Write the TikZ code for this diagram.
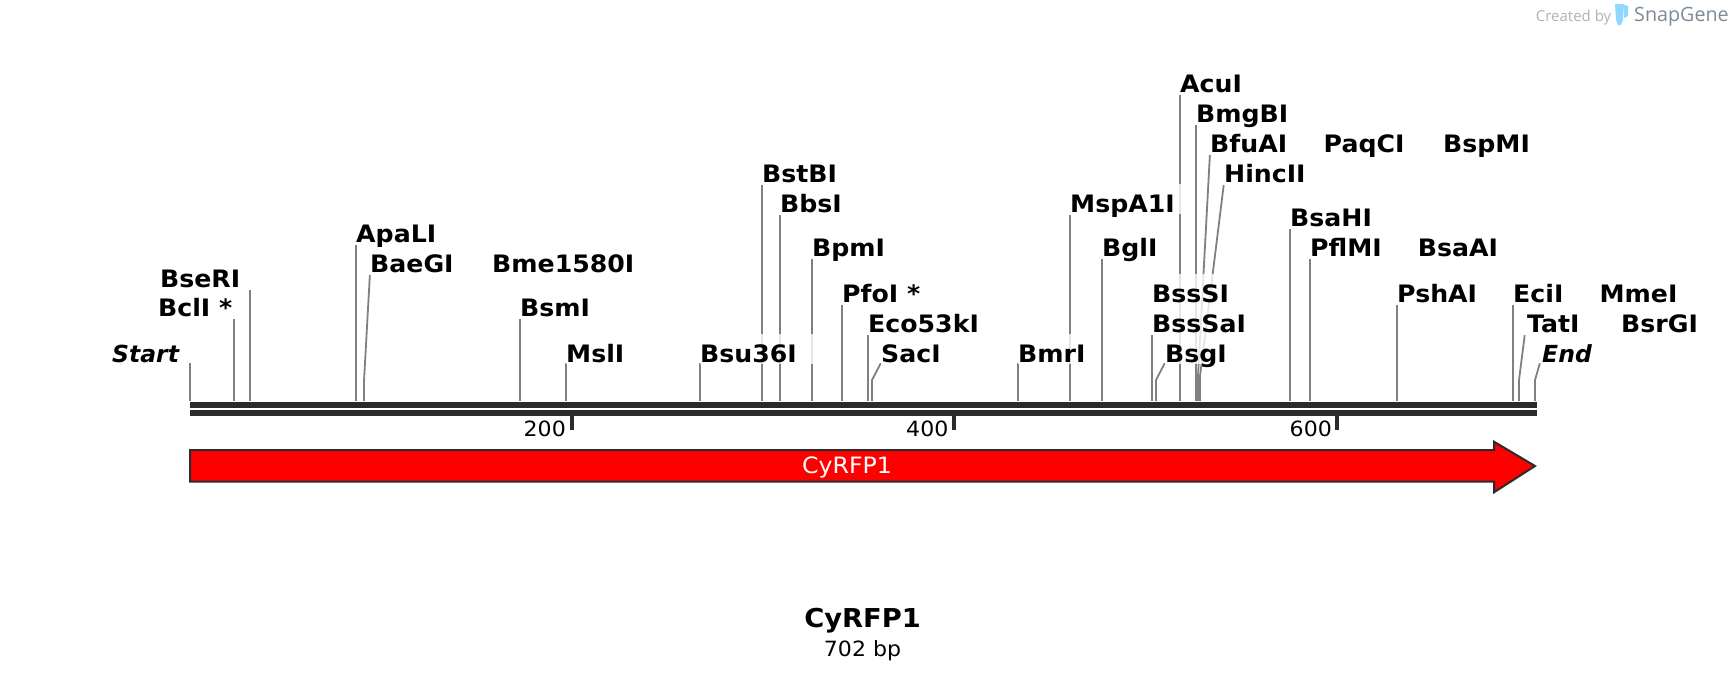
\documentclass[tikz,border=0pt]{standalone}
\usepackage{fontspec}
\setmainfont[FakeStretch=1.05]{DejaVu Sans}
\newfontfamily\endfont[BoldItalicFont={DejaVu Sans Bold Oblique}]{DejaVu Sans}
\newfontfamily\brandfont{Open Sans}
\usetikzlibrary{backgrounds}
\definecolor{linegray}{RGB}{128,128,128}
\definecolor{barblack}{RGB}{43,43,43}
\definecolor{tubeblue}{RGB}{143,216,255}
\definecolor{brandgray}{RGB}{125,137,150}
\tikzset{
  sitelabel/.style={anchor=base west,yshift=-1pt,inner xsep=0pt,inner ysep=0pt,text height=28.5pt,text depth=1.5pt,
    fill=white,fill opacity=.8,text opacity=1,
    font=\fontsize{24}{28}\selectfont\bfseries,execute at end node={\hspace*{10pt}}},
  endlabel/.style={sitelabel,font=\endfont\fontsize{23.5}{28}\selectfont\bfseries\itshape},
  cutline/.style={draw=linegray,line width=1.8pt,shorten >=2.5pt},
  lowrow/.style={shorten >=.6pt},
  ticknum/.style={anchor=base east,inner sep=0pt,font=\fontsize{21}{24}\selectfont},
  tickmark/.style={draw=barblack,line width=4pt},
  backbone/.style={fill=barblack},
  featurearrow/.style={draw=barblack,line width=2pt,fill=red,line join=miter}
}
\begin{document}
\begin{tikzpicture}[x=1pt,y=-1pt]
  \useasboundingbox (0,0) rectangle (1728,680);
  % labels
  \draw
    (190,361.7) node[endlabel,xshift=-78pt] (Start){Start}
    (234,315.7) node[sitelabel,xshift=-76pt] (BclI){BclI *}
    (250,286) node[sitelabel,xshift=-90pt] (BseRI){BseRI}
    (370,271.7) node[sitelabel] (BaeGI){BaeGI}
    (356,241.7) node[sitelabel] (ApaLI){ApaLI}
    (492,271.7) node[sitelabel] (Bme1580I){Bme1580I}
    (520,315.7) node[sitelabel] (BsmI){BsmI}
    (566,361.7) node[sitelabel] (MslI){MslI}
    (700,361.7) node[sitelabel,text width=113pt] (Bsu36I){Bsu36I}
    (762,181.7) node[sitelabel] (BstBI){BstBI}
    (780,211.7) node[sitelabel] (BbsI){BbsI}
    (812,255.7) node[sitelabel] (BpmI){BpmI}
    (842,301.7) node[sitelabel] (PfoI){PfoI *}
    (868,331.7) node[sitelabel] (Eco53kI){Eco53kI}
    (881,361.7) node[sitelabel] (SacI){SacI}
    (1018,361.7) node[sitelabel] (BmrI){BmrI}
    (1070,211.7) node[sitelabel] (MspA1I){MspA1I}
    (1102,255.7) node[sitelabel] (BglI){BglI}
    (1152,301.7) node[sitelabel] (BssSI){BssSI}
    (1152,331.7) node[sitelabel] (BssSaI){BssSaI}
    (1165,361.7) node[sitelabel] (BsgI){BsgI}
    (1224,181.7) node[sitelabel] (HincII){HincII}
    (1210,151.7) node[sitelabel] (BfuAI){BfuAI}
    (1196,121.7) node[sitelabel] (BmgBI){BmgBI}
    (1180,91.7) node[sitelabel] (AcuI){AcuI}
    (1323.5,151.7) node[sitelabel] (PaqCI){PaqCI}
    (1443,151.7) node[sitelabel] (BspMI){BspMI}
    (1290,225.7) node[sitelabel] (BsaHI){BsaHI}
    (1310,255.7) node[sitelabel] (PflMI){PflMI}
    (1417.6,255.7) node[sitelabel] (BsaAI){BsaAI}
    (1397,301.7) node[sitelabel] (PshAI){PshAI}
    (1513,301.7) node[sitelabel] (EciI){EciI}
    (1599.4,301.7) node[sitelabel] (MmeI){MmeI}
    (1527,331.7) node[sitelabel] (TatI){TatI}
    (1621,331.7) node[sitelabel] (BsrGI){BsrGI}
    (1542,361.7) node[endlabel] (End){End};
  % cut sites on the sequence
  \draw
    (190,401) coordinate (cutStart)
    (234,401) coordinate (cutBclI)
    (250,401) coordinate (cutBseRI)
    (356,401) coordinate (cutApaLI)
    (364,401) coordinate (cutBaeGI)
    (364,381) coordinate (bendBaeGI)
    (520,401) coordinate (cutBsmI)
    (566,401) coordinate (cutMslI)
    (700,401) coordinate (cutBsu36I)
    (762,401) coordinate (cutBstBI)
    (780,401) coordinate (cutBbsI)
    (812,401) coordinate (cutBpmI)
    (842,401) coordinate (cutPfoI)
    (868,401) coordinate (cutEco53kI)
    (872,401) coordinate (cutSacI)
    (872,380) coordinate (bendSacI)
    (1018,401) coordinate (cutBmrI)
    (1070,401) coordinate (cutMspA1I)
    (1102,401) coordinate (cutBglI)
    (1152,401) coordinate (cutBssSaI)
    (1156,401) coordinate (cutBsgI)
    (1156,380) coordinate (bendBsgI)
    (1180,401) coordinate (cutAcuI)
    (1196,401) coordinate (cutBmgBI)
    (1198,401) coordinate (cutBfuAI)
    (1198,376) coordinate (bendBfuAI)
    (1200,401) coordinate (cutHincII)
    (1200,376) coordinate (bendHincII)
    (1290,401) coordinate (cutBsaHI)
    (1310,401) coordinate (cutPflMI)
    (1397,401) coordinate (cutPshAI)
    (1513,401) coordinate (cutEciI)
    (1519,401) coordinate (cutTatI)
    (1519,380) coordinate (bendTatI)
    (1535,401) coordinate (cutEnd)
    (1535,380) coordinate (bendEnd);
  \begin{scope}[on background layer,every path/.style={cutline}]
    \draw[lowrow] (cutStart) to (cutStart |- Start.base);
    \draw (cutBclI) to (cutBclI |- BclI.base);
    \draw (cutBseRI) to (cutBseRI |- BseRI.base);
    \draw (cutApaLI) to (ApaLI.base west);
    \draw (cutBaeGI) -- (bendBaeGI) to (BaeGI.base west);
    \draw (cutBsmI) to (BsmI.base west);
    \draw[lowrow] (cutMslI) to (MslI.base west);
    \draw[lowrow] (cutBsu36I) to (Bsu36I.base west);
    \draw (cutBstBI) to (BstBI.base west);
    \draw (cutBbsI) to (BbsI.base west);
    \draw (cutBpmI) to (BpmI.base west);
    \draw (cutPfoI) to (PfoI.base west);
    \draw (cutEco53kI) to (Eco53kI.base west);
    \draw[lowrow] (cutSacI) -- (bendSacI) to (SacI.base west);
    \draw[lowrow] (cutBmrI) to (BmrI.base west);
    \draw (cutMspA1I) to (MspA1I.base west);
    \draw (cutBglI) to (BglI.base west);
    \draw (cutBssSaI) to (BssSaI.base west);
    \draw[lowrow] (cutBsgI) -- (bendBsgI) to (BsgI.base west);
    \draw (cutAcuI) to (AcuI.base west);
    \draw (cutBmgBI) to (BmgBI.base west);
    \draw (cutBfuAI) -- (bendBfuAI) to (BfuAI.base west);
    \draw (cutHincII) -- (bendHincII) to (HincII.base west);
    \draw (cutBsaHI) to (BsaHI.base west);
    \draw (cutPflMI) to (PflMI.base west);
    \draw (cutPshAI) to (PshAI.base west);
    \draw (cutEciI) to (EciI.base west);
    \draw (cutTatI) -- (bendTatI) to ([xshift=-2pt]TatI.base west);
    \draw[lowrow] (cutEnd) -- (bendEnd) to ([xshift=-2pt]End.base west);
  \end{scope}
  % sequence and ruler
  \fill[backbone] (190,401.7) rectangle (1537,408);
  \fill[backbone] (190,410) rectangle (1537,416);
  \draw[tickmark] (572,416) -- (572,430);
  \draw[tickmark] (954,416) -- (954,430);
  \draw[tickmark] (1337,416) -- (1337,430);
  \node[ticknum] (num200) at (566,436) {200};
  \node[ticknum] (num400) at (948.5,436) {400};
  \node[ticknum] (num600) at (1332,436) {600};
  % feature
  \draw[featurearrow] (190,450) -- (1494,450) -- (1494,441.7) -- (1535,466) -- (1494,492.3) -- (1494,481.7) -- (190,481.7) -- cycle;
  \node[text=white,inner sep=0pt,font=\fontsize{22.5}{26}\selectfont] (feature) at (847,467) {CyRFP1};
  % title
  \node[anchor=base,inner sep=0pt,font=\fontsize{26}{30}\selectfont\bfseries] (title) at (862.5,627) {CyRFP1};
  \node[anchor=base,inner sep=0pt,font=\fontsize{21}{24}\selectfont] (length) at (862.5,656.7) {702 bp};
  % logo
  \node[anchor=base west,inner sep=0pt,text=black!30,font=\brandfont\fontsize{15}{18}\selectfont] (created) at (1535.7,21) {Created by};
  \fill[tubeblue] (1615,4) -- (1624,4) -- (1623,20) -- (1621,25) -- (1618,25) -- (1616,20) -- cycle;
  \fill[tubeblue] (1624,5) -- (1628,6) -- (1628,16) -- (1624,18) -- cycle;
  \node[anchor=base west,inner sep=0pt,text=brandgray,font=\brandfont\fontsize{19.7}{22}\selectfont] (brand) at (1634,21) {SnapGene};
\end{tikzpicture}
\end{document}
